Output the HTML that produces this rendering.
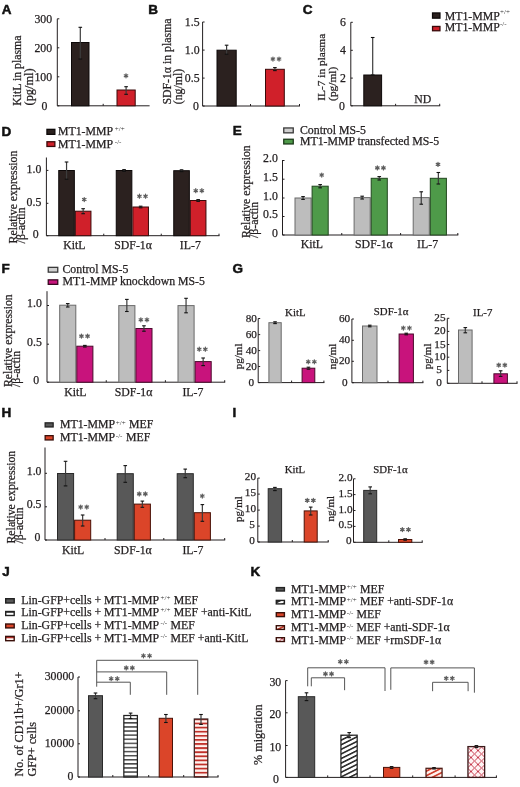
<!DOCTYPE html>
<html><head><meta charset="utf-8"><style>
html,body{margin:0;padding:0;background:#fff;width:520px;height:787px;overflow:hidden;}
svg{display:block;font-family:"Liberation Serif",serif;filter:blur(0.35px);}
</style></head><body>
<svg width="520" height="787" viewBox="0 0 520 787" shape-rendering="geometricPrecision"><defs><pattern id="hs" width="4" height="4.1" patternUnits="userSpaceOnUse" y="718"><rect width="4" height="4.1" fill="#fff"/><rect width="4" height="1.5" fill="#4a4a4a"/></pattern><pattern id="hsr" width="4" height="4.1" patternUnits="userSpaceOnUse" y="718.5"><rect width="4" height="4.1" fill="#fff4f0"/><rect width="4" height="1.8" fill="#c0302a"/></pattern><pattern id="dg" width="10" height="4.11" patternUnits="userSpaceOnUse" patternTransform="rotate(-26.57)"><rect width="10" height="4.11" fill="#fff"/><rect width="10" height="1.6" fill="#2a2a2a"/></pattern><pattern id="dgr" width="10" height="4.11" patternUnits="userSpaceOnUse" patternTransform="rotate(-26.57)"><rect width="10" height="4.11" fill="#fff3ee"/><rect width="10" height="1.7" fill="#d0402e"/></pattern><pattern id="xh" width="7" height="7" patternUnits="userSpaceOnUse" x="471" y="750.5"><rect width="7" height="7" fill="#fff4f4"/><path d="M-1,-1L8,8M8,-1L-1,8" stroke="#c0283c" stroke-width="0.9" fill="none"/></pattern></defs><text x="1.7" y="14.4" font-size="13.5" text-anchor="start" fill="#111" font-family='"Liberation Sans", sans-serif' font-weight="bold" stroke="#111" stroke-width="0.5" >A</text>
<line x1="57.3" y1="18.8" x2="57.3" y2="105.8" stroke="#231f20" stroke-width="1" />
<line x1="57.3" y1="18.8" x2="59.3" y2="18.8" stroke="#231f20" stroke-width="1" />
<text x="52.1" y="22.5" font-size="11.8" text-anchor="end" fill="#231f20" font-family='"Liberation Serif", serif' font-weight="normal" stroke="#231f20" stroke-width="0.25" >300</text>
<line x1="57.3" y1="47.8" x2="59.3" y2="47.8" stroke="#231f20" stroke-width="1" />
<text x="52.1" y="51.5" font-size="11.8" text-anchor="end" fill="#231f20" font-family='"Liberation Serif", serif' font-weight="normal" stroke="#231f20" stroke-width="0.25" >200</text>
<line x1="57.3" y1="76.8" x2="59.3" y2="76.8" stroke="#231f20" stroke-width="1" />
<text x="52.1" y="80.5" font-size="11.8" text-anchor="end" fill="#231f20" font-family='"Liberation Serif", serif' font-weight="normal" stroke="#231f20" stroke-width="0.25" >100</text>
<line x1="57.3" y1="105.8" x2="59.3" y2="105.8" stroke="#231f20" stroke-width="1" />
<text x="47.37" y="109.5" font-size="11.8" text-anchor="end" fill="#231f20" font-family='"Liberation Serif", serif' font-weight="normal" stroke="#231f20" stroke-width="0.25" >0</text>
<text x="0" y="0" transform="translate(21.3,105.8) rotate(-90)" font-size="11.8" text-anchor="start" fill="#231f20" font-family='"Liberation Serif", serif' font-weight="normal" stroke="#231f20" stroke-width="0.25" >KitL in plasma</text>
<text x="0" y="0" transform="translate(32.8,105.5) rotate(-90)" font-size="12.4" text-anchor="start" fill="#231f20" font-family='"Liberation Serif", serif' font-weight="normal" stroke="#231f20" stroke-width="0.25" >(pg/ml)</text>
<line x1="57.3" y1="105.8" x2="149.6" y2="105.8" stroke="#231f20" stroke-width="1" />
<line x1="103.2" y1="105.8" x2="103.2" y2="103.8" stroke="#231f20" stroke-width="1" />
<rect x="71.5" y="42.5" width="17.5" height="63.3" fill="#2b211f" stroke="#0d0909" stroke-width="1"/>
<line x1="80.3" y1="27.3" x2="80.3" y2="59" stroke="#3c3c3c" stroke-width="1.2" />
<line x1="78.5" y1="27.3" x2="82.1" y2="27.3" stroke="#111" stroke-width="1.1" />
<line x1="78.5" y1="59" x2="82.1" y2="59" stroke="#111" stroke-width="1.1" />
<rect x="117" y="90" width="18.2" height="15.8" fill="#d0202a" stroke="#3a0a0a" stroke-width="1"/>
<line x1="126.1" y1="86.7" x2="126.1" y2="94.3" stroke="#3c3c3c" stroke-width="1.2" />
<line x1="124.3" y1="86.7" x2="127.9" y2="86.7" stroke="#111" stroke-width="1.1" />
<line x1="124.3" y1="94.3" x2="127.9" y2="94.3" stroke="#111" stroke-width="1.1" />
<path d="M126,73.8L126,77.8M124.27,74.8L127.73,76.8M127.73,74.8L124.27,76.8" stroke="#5e5e5e" stroke-width="1.25" stroke-linecap="round" fill="none"/>
<circle cx="126" cy="75.8" r="1" fill="#5e5e5e"/>
<text x="148.3" y="14.1" font-size="13.5" text-anchor="start" fill="#111" font-family='"Liberation Sans", sans-serif' font-weight="bold" stroke="#111" stroke-width="0.5" >B</text>
<line x1="202.6" y1="22" x2="202.6" y2="106" stroke="#231f20" stroke-width="1" />
<line x1="202.6" y1="22" x2="204.6" y2="22" stroke="#231f20" stroke-width="1" />
<text x="199.6" y="25.7" font-size="11.8" text-anchor="end" fill="#231f20" font-family='"Liberation Serif", serif' font-weight="normal" stroke="#231f20" stroke-width="0.25" >1.5</text>
<line x1="202.6" y1="50.1" x2="204.6" y2="50.1" stroke="#231f20" stroke-width="1" />
<text x="199.6" y="53.8" font-size="11.8" text-anchor="end" fill="#231f20" font-family='"Liberation Serif", serif' font-weight="normal" stroke="#231f20" stroke-width="0.25" >1.0</text>
<line x1="202.6" y1="78.1" x2="204.6" y2="78.1" stroke="#231f20" stroke-width="1" />
<text x="199.6" y="81.8" font-size="11.8" text-anchor="end" fill="#231f20" font-family='"Liberation Serif", serif' font-weight="normal" stroke="#231f20" stroke-width="0.25" >0.5</text>
<line x1="202.6" y1="106" x2="204.6" y2="106" stroke="#231f20" stroke-width="1" />
<text x="198.97" y="109.7" font-size="11.8" text-anchor="end" fill="#231f20" font-family='"Liberation Serif", serif' font-weight="normal" stroke="#231f20" stroke-width="0.25" >0</text>
<text x="0" y="0" transform="translate(170.7,104.6) rotate(-90)" font-size="11.8" text-anchor="start" fill="#231f20" font-family='"Liberation Serif", serif' font-weight="normal" stroke="#231f20" stroke-width="0.25" >SDF-1α in plasma</text>
<text x="0" y="0" transform="translate(182.3,104.3) rotate(-90)" font-size="11.8" text-anchor="start" fill="#231f20" font-family='"Liberation Serif", serif' font-weight="normal" stroke="#231f20" stroke-width="0.25" >(ng/ml)</text>
<line x1="202.6" y1="106" x2="300" y2="106" stroke="#231f20" stroke-width="1" />
<line x1="250.5" y1="106" x2="250.5" y2="104" stroke="#231f20" stroke-width="1" />
<line x1="299.5" y1="106" x2="299.5" y2="104" stroke="#231f20" stroke-width="1" />
<rect x="217" y="50.2" width="19.2" height="55.8" fill="#2b211f" stroke="#0d0909" stroke-width="1"/>
<line x1="226.6" y1="45.2" x2="226.6" y2="54.2" stroke="#3c3c3c" stroke-width="1.2" />
<line x1="224.8" y1="45.2" x2="228.4" y2="45.2" stroke="#111" stroke-width="1.1" />
<line x1="224.8" y1="54.2" x2="228.4" y2="54.2" stroke="#111" stroke-width="1.1" />
<rect x="265.5" y="69.3" width="18.8" height="36.7" fill="#d0202a" stroke="#3a0a0a" stroke-width="1"/>
<line x1="274.9" y1="67.6" x2="274.9" y2="70.6" stroke="#3c3c3c" stroke-width="1.2" />
<line x1="273.1" y1="67.6" x2="276.7" y2="67.6" stroke="#111" stroke-width="1.1" />
<line x1="273.1" y1="70.6" x2="276.7" y2="70.6" stroke="#111" stroke-width="1.1" />
<path d="M272.95,57L272.95,61M271.22,58L274.68,60M274.68,58L271.22,60" stroke="#5e5e5e" stroke-width="1.25" stroke-linecap="round" fill="none"/>
<circle cx="272.95" cy="59" r="1" fill="#5e5e5e"/>
<path d="M279.05,57L279.05,61M277.32,58L280.78,60M280.78,58L277.32,60" stroke="#5e5e5e" stroke-width="1.25" stroke-linecap="round" fill="none"/>
<circle cx="279.05" cy="59" r="1" fill="#5e5e5e"/>
<text x="302.7" y="14.25" font-size="13.5" text-anchor="start" fill="#111" font-family='"Liberation Sans", sans-serif' font-weight="bold" stroke="#111" stroke-width="0.5" >C</text>
<line x1="350.8" y1="22.3" x2="350.8" y2="105.8" stroke="#231f20" stroke-width="1" />
<line x1="350.8" y1="22.3" x2="352.8" y2="22.3" stroke="#231f20" stroke-width="1" />
<text x="345.9" y="26" font-size="11.8" text-anchor="end" fill="#231f20" font-family='"Liberation Serif", serif' font-weight="normal" stroke="#231f20" stroke-width="0.25" >6</text>
<line x1="350.8" y1="50.3" x2="352.8" y2="50.3" stroke="#231f20" stroke-width="1" />
<text x="345.9" y="54" font-size="11.8" text-anchor="end" fill="#231f20" font-family='"Liberation Serif", serif' font-weight="normal" stroke="#231f20" stroke-width="0.25" >4</text>
<line x1="350.8" y1="78.1" x2="352.8" y2="78.1" stroke="#231f20" stroke-width="1" />
<text x="345.9" y="81.8" font-size="11.8" text-anchor="end" fill="#231f20" font-family='"Liberation Serif", serif' font-weight="normal" stroke="#231f20" stroke-width="0.25" >2</text>
<line x1="350.8" y1="105.8" x2="352.8" y2="105.8" stroke="#231f20" stroke-width="1" />
<text x="344.97" y="109.5" font-size="11.8" text-anchor="end" fill="#231f20" font-family='"Liberation Serif", serif' font-weight="normal" stroke="#231f20" stroke-width="0.25" >0</text>
<text x="0" y="0" transform="translate(325.2,100.8) rotate(-90)" font-size="11.4" text-anchor="start" fill="#231f20" font-family='"Liberation Serif", serif' font-weight="normal" stroke="#231f20" stroke-width="0.25" >IL-7 in plasma</text>
<text x="0" y="0" transform="translate(336.2,100.9) rotate(-90)" font-size="11.4" text-anchor="start" fill="#231f20" font-family='"Liberation Serif", serif' font-weight="normal" stroke="#231f20" stroke-width="0.25" >(pg/ml)</text>
<line x1="350.8" y1="105.8" x2="440.2" y2="105.8" stroke="#231f20" stroke-width="1" />
<line x1="395.6" y1="105.8" x2="395.6" y2="103.8" stroke="#231f20" stroke-width="1" />
<line x1="439.7" y1="105.8" x2="439.7" y2="103.8" stroke="#231f20" stroke-width="1" />
<rect x="363.8" y="75" width="17.8" height="30.8" fill="#2b211f" stroke="#0d0909" stroke-width="1"/>
<line x1="372.7" y1="37.5" x2="372.7" y2="75" stroke="#3c3c3c" stroke-width="1.2" />
<line x1="370.9" y1="37.5" x2="374.5" y2="37.5" stroke="#111" stroke-width="1.1" />
<line x1="370.9" y1="75" x2="374.5" y2="75" stroke="#111" stroke-width="1.1" />
<text x="422.7" y="103" font-size="11.8" text-anchor="middle" fill="#231f20" font-family='"Liberation Serif", serif' font-weight="normal" stroke="#231f20" stroke-width="0.25" >ND</text>
<rect x="432.55" y="12.95" width="7.4" height="5.2" fill="#2b211f" stroke="#0d0909" stroke-width="1.3"/>
<rect x="432.55" y="26.45" width="7.4" height="4.3" fill="#d0202a" stroke="#3a0a0a" stroke-width="1.3"/>
<text x="444.7" y="19.6" font-size="11.8" text-anchor="start" fill="#231f20" font-family='"Liberation Serif", serif' font-weight="normal" stroke="#231f20" stroke-width="0.25" >MT1-MMP</text>
<text x="500" y="14.4" font-size="7" text-anchor="start" fill="#333" font-family='"Liberation Serif", serif' font-weight="normal" stroke-width="0">+/+</text>
<text x="444.7" y="30.6" font-size="11.8" text-anchor="start" fill="#231f20" font-family='"Liberation Serif", serif' font-weight="normal" stroke="#231f20" stroke-width="0.25" >MT1-MMP</text>
<text x="500" y="26" font-size="7" text-anchor="start" fill="#333" font-family='"Liberation Serif", serif' font-weight="normal" stroke-width="0">-/-</text>
<text x="1.6" y="135.5" font-size="13.5" text-anchor="start" fill="#111" font-family='"Liberation Sans", sans-serif' font-weight="bold" stroke="#111" stroke-width="0.5" >D</text>
<rect x="46.95" y="129.35" width="7.9" height="5" fill="#2b211f" stroke="#0d0909" stroke-width="1.3"/>
<rect x="46.95" y="141.75" width="7.9" height="4.7" fill="#d0202a" stroke="#3a0a0a" stroke-width="1.3"/>
<text x="58" y="134.9" font-size="11.8" text-anchor="start" fill="#231f20" font-family='"Liberation Serif", serif' font-weight="normal" stroke="#231f20" stroke-width="0.25" >MT1-MMP</text>
<text x="114.8" y="131.3" font-size="7" text-anchor="start" fill="#333" font-family='"Liberation Serif", serif' font-weight="normal" stroke-width="0">+/+</text>
<text x="58" y="147.5" font-size="11.8" text-anchor="start" fill="#231f20" font-family='"Liberation Serif", serif' font-weight="normal" stroke="#231f20" stroke-width="0.25" >MT1-MMP</text>
<text x="114.8" y="143.9" font-size="7" text-anchor="start" fill="#333" font-family='"Liberation Serif", serif' font-weight="normal" stroke-width="0">-/-</text>
<line x1="46.4" y1="157.5" x2="46.4" y2="235.7" stroke="#231f20" stroke-width="1" />
<line x1="46.4" y1="170.4" x2="48.4" y2="170.4" stroke="#231f20" stroke-width="1" />
<text x="41.3" y="173" font-size="11.8" text-anchor="end" fill="#231f20" font-family='"Liberation Serif", serif' font-weight="normal" stroke="#231f20" stroke-width="0.25" >1.0</text>
<line x1="46.4" y1="203.3" x2="48.4" y2="203.3" stroke="#231f20" stroke-width="1" />
<text x="41.3" y="205.9" font-size="11.8" text-anchor="end" fill="#231f20" font-family='"Liberation Serif", serif' font-weight="normal" stroke="#231f20" stroke-width="0.25" >0.5</text>
<line x1="46.4" y1="235.7" x2="48.4" y2="235.7" stroke="#231f20" stroke-width="1" />
<text x="38.57" y="238.3" font-size="11.8" text-anchor="end" fill="#231f20" font-family='"Liberation Serif", serif' font-weight="normal" stroke="#231f20" stroke-width="0.25" >0</text>
<text x="0" y="0" transform="translate(16.5,243.4) rotate(-90)" font-size="11.8" text-anchor="start" fill="#231f20" font-family='"Liberation Serif", serif' font-weight="normal" stroke="#231f20" stroke-width="0.25" >Relative expression</text>
<text x="0" y="0" transform="translate(24.5,243.4) rotate(-90)" font-size="11.8" text-anchor="start" fill="#231f20" font-family='"Liberation Serif", serif' font-weight="normal" stroke="#231f20" stroke-width="0.25" >/β-actin</text>
<line x1="46.4" y1="235.7" x2="219.5" y2="235.7" stroke="#231f20" stroke-width="1" />
<line x1="103.75" y1="235.7" x2="103.75" y2="233.7" stroke="#231f20" stroke-width="1" />
<line x1="161.25" y1="235.7" x2="161.25" y2="233.7" stroke="#231f20" stroke-width="1" />
<line x1="219" y1="235.7" x2="219" y2="233.7" stroke="#231f20" stroke-width="1" />
<rect x="58.75" y="170.5" width="15.6" height="65.2" fill="#2b211f" stroke="#0d0909" stroke-width="1"/>
<rect x="75.35" y="211.2" width="15.6" height="24.5" fill="#d0202a" stroke="#3a0a0a" stroke-width="1"/>
<line x1="66.55" y1="162" x2="66.55" y2="179.2" stroke="#3c3c3c" stroke-width="1.2" />
<line x1="64.75" y1="162" x2="68.35" y2="162" stroke="#111" stroke-width="1.1" />
<line x1="64.75" y1="179.2" x2="68.35" y2="179.2" stroke="#111" stroke-width="1.1" />
<line x1="83.15" y1="208.7" x2="83.15" y2="213.7" stroke="#3c3c3c" stroke-width="1.2" />
<line x1="81.35" y1="208.7" x2="84.95" y2="208.7" stroke="#111" stroke-width="1.1" />
<line x1="81.35" y1="213.7" x2="84.95" y2="213.7" stroke="#111" stroke-width="1.1" />
<rect x="116.25" y="170.5" width="15.6" height="65.2" fill="#2b211f" stroke="#0d0909" stroke-width="1"/>
<rect x="132.85" y="207" width="15.6" height="28.7" fill="#d0202a" stroke="#3a0a0a" stroke-width="1"/>
<line x1="124.05" y1="169.6" x2="124.05" y2="171.4" stroke="#3c3c3c" stroke-width="1.2" />
<line x1="122.25" y1="169.6" x2="125.85" y2="169.6" stroke="#111" stroke-width="1.1" />
<line x1="122.25" y1="171.4" x2="125.85" y2="171.4" stroke="#111" stroke-width="1.1" />
<line x1="140.65" y1="206.2" x2="140.65" y2="207.8" stroke="#3c3c3c" stroke-width="1.2" />
<line x1="138.85" y1="206.2" x2="142.45" y2="206.2" stroke="#111" stroke-width="1.1" />
<line x1="138.85" y1="207.8" x2="142.45" y2="207.8" stroke="#111" stroke-width="1.1" />
<rect x="173.75" y="170.7" width="15.6" height="65" fill="#2b211f" stroke="#0d0909" stroke-width="1"/>
<rect x="190.35" y="200.5" width="15.6" height="35.2" fill="#d0202a" stroke="#3a0a0a" stroke-width="1"/>
<line x1="181.55" y1="169.8" x2="181.55" y2="171.6" stroke="#3c3c3c" stroke-width="1.2" />
<line x1="179.75" y1="169.8" x2="183.35" y2="169.8" stroke="#111" stroke-width="1.1" />
<line x1="179.75" y1="171.6" x2="183.35" y2="171.6" stroke="#111" stroke-width="1.1" />
<line x1="198.15" y1="199.6" x2="198.15" y2="201.4" stroke="#3c3c3c" stroke-width="1.2" />
<line x1="196.35" y1="199.6" x2="199.95" y2="199.6" stroke="#111" stroke-width="1.1" />
<line x1="196.35" y1="201.4" x2="199.95" y2="201.4" stroke="#111" stroke-width="1.1" />
<path d="M84.25,197.5L84.25,201.5M82.52,198.5L85.98,200.5M85.98,198.5L82.52,200.5" stroke="#5e5e5e" stroke-width="1.25" stroke-linecap="round" fill="none"/>
<circle cx="84.25" cy="199.5" r="1" fill="#5e5e5e"/>
<path d="M139.45,194.2L139.45,198.2M137.72,195.2L141.18,197.2M141.18,195.2L137.72,197.2" stroke="#5e5e5e" stroke-width="1.25" stroke-linecap="round" fill="none"/>
<circle cx="139.45" cy="196.2" r="1" fill="#5e5e5e"/>
<path d="M145.55,194.2L145.55,198.2M143.82,195.2L147.28,197.2M147.28,195.2L143.82,197.2" stroke="#5e5e5e" stroke-width="1.25" stroke-linecap="round" fill="none"/>
<circle cx="145.55" cy="196.2" r="1" fill="#5e5e5e"/>
<path d="M195.75,188.7L195.75,192.7M194.02,189.7L197.48,191.7M197.48,189.7L194.02,191.7" stroke="#5e5e5e" stroke-width="1.25" stroke-linecap="round" fill="none"/>
<circle cx="195.75" cy="190.7" r="1" fill="#5e5e5e"/>
<path d="M201.85,188.7L201.85,192.7M200.12,189.7L203.58,191.7M203.58,189.7L200.12,191.7" stroke="#5e5e5e" stroke-width="1.25" stroke-linecap="round" fill="none"/>
<circle cx="201.85" cy="190.7" r="1" fill="#5e5e5e"/>
<text x="74.4" y="248.7" font-size="11.8" text-anchor="middle" fill="#231f20" font-family='"Liberation Serif", serif' font-weight="normal" stroke="#231f20" stroke-width="0.25" >KitL</text>
<text x="133.1" y="248.7" font-size="11.8" text-anchor="middle" fill="#231f20" font-family='"Liberation Serif", serif' font-weight="normal" stroke="#231f20" stroke-width="0.25" >SDF-1α</text>
<text x="190.3" y="248.7" font-size="11.8" text-anchor="middle" fill="#231f20" font-family='"Liberation Serif", serif' font-weight="normal" stroke="#231f20" stroke-width="0.25" >IL-7</text>
<text x="232.8" y="135" font-size="13.5" text-anchor="start" fill="#111" font-family='"Liberation Sans", sans-serif' font-weight="bold" stroke="#111" stroke-width="0.5" >E</text>
<rect x="283.75" y="127.95" width="9.5" height="4.9" fill="#cfcfcf" stroke="#3a3a3a" stroke-width="1.3"/>
<rect x="283.75" y="139.25" width="9.5" height="4.7" fill="#4e9a49" stroke="#1c3a1a" stroke-width="1.3"/>
<text x="300" y="134" font-size="11.8" text-anchor="start" fill="#231f20" font-family='"Liberation Serif", serif' font-weight="normal" stroke="#231f20" stroke-width="0.25" >Control MS-5</text>
<text x="300" y="145" font-size="11.8" text-anchor="start" fill="#231f20" font-family='"Liberation Serif", serif' font-weight="normal" stroke="#231f20" stroke-width="0.25" >MT1-MMP transfected MS-5</text>
<line x1="282.5" y1="160" x2="282.5" y2="235" stroke="#231f20" stroke-width="1" />
<line x1="282.5" y1="160.5" x2="284.5" y2="160.5" stroke="#231f20" stroke-width="1" />
<text x="277.8" y="162.3" font-size="11.8" text-anchor="end" fill="#231f20" font-family='"Liberation Serif", serif' font-weight="normal" stroke="#231f20" stroke-width="0.25" >2.0</text>
<line x1="282.5" y1="179.2" x2="284.5" y2="179.2" stroke="#231f20" stroke-width="1" />
<text x="277.8" y="181" font-size="11.8" text-anchor="end" fill="#231f20" font-family='"Liberation Serif", serif' font-weight="normal" stroke="#231f20" stroke-width="0.25" >1.5</text>
<line x1="282.5" y1="198" x2="284.5" y2="198" stroke="#231f20" stroke-width="1" />
<text x="277.8" y="199.8" font-size="11.8" text-anchor="end" fill="#231f20" font-family='"Liberation Serif", serif' font-weight="normal" stroke="#231f20" stroke-width="0.25" >1.0</text>
<line x1="282.5" y1="216.5" x2="284.5" y2="216.5" stroke="#231f20" stroke-width="1" />
<text x="277.8" y="218.3" font-size="11.8" text-anchor="end" fill="#231f20" font-family='"Liberation Serif", serif' font-weight="normal" stroke="#231f20" stroke-width="0.25" >0.5</text>
<line x1="282.5" y1="235" x2="284.5" y2="235" stroke="#231f20" stroke-width="1" />
<text x="277.8" y="236.8" font-size="11.8" text-anchor="end" fill="#231f20" font-family='"Liberation Serif", serif' font-weight="normal" stroke="#231f20" stroke-width="0.25" >0</text>
<text x="0" y="0" transform="translate(250,238) rotate(-90)" font-size="11.8" text-anchor="start" fill="#231f20" font-family='"Liberation Serif", serif' font-weight="normal" stroke="#231f20" stroke-width="0.25" >Relative expression</text>
<text x="0" y="0" transform="translate(258,238) rotate(-90)" font-size="11.8" text-anchor="start" fill="#231f20" font-family='"Liberation Serif", serif' font-weight="normal" stroke="#231f20" stroke-width="0.25" >/β-actin</text>
<line x1="282.5" y1="235" x2="458.3" y2="235" stroke="#231f20" stroke-width="1" />
<line x1="341.75" y1="235" x2="341.75" y2="233" stroke="#231f20" stroke-width="1" />
<line x1="400.6" y1="235" x2="400.6" y2="233" stroke="#231f20" stroke-width="1" />
<line x1="457.8" y1="235" x2="457.8" y2="233" stroke="#231f20" stroke-width="1" />
<rect x="295" y="198" width="16.1" height="37" fill="#bdbdbd" stroke="#6a6a6a" stroke-width="1"/>
<rect x="312.1" y="186.2" width="16.1" height="48.8" fill="#4e9a49" stroke="#22471f" stroke-width="1"/>
<line x1="303.05" y1="196.6" x2="303.05" y2="199.4" stroke="#3c3c3c" stroke-width="1.2" />
<line x1="301.25" y1="196.6" x2="304.85" y2="196.6" stroke="#111" stroke-width="1.1" />
<line x1="301.25" y1="199.4" x2="304.85" y2="199.4" stroke="#111" stroke-width="1.1" />
<line x1="320.15" y1="184.6" x2="320.15" y2="187.8" stroke="#3c3c3c" stroke-width="1.2" />
<line x1="318.35" y1="184.6" x2="321.95" y2="184.6" stroke="#111" stroke-width="1.1" />
<line x1="318.35" y1="187.8" x2="321.95" y2="187.8" stroke="#111" stroke-width="1.1" />
<rect x="354.1" y="197.6" width="16.1" height="37.4" fill="#bdbdbd" stroke="#6a6a6a" stroke-width="1"/>
<rect x="371.2" y="178.3" width="16.1" height="56.7" fill="#4e9a49" stroke="#22471f" stroke-width="1"/>
<line x1="362.15" y1="196.2" x2="362.15" y2="199" stroke="#3c3c3c" stroke-width="1.2" />
<line x1="360.35" y1="196.2" x2="363.95" y2="196.2" stroke="#111" stroke-width="1.1" />
<line x1="360.35" y1="199" x2="363.95" y2="199" stroke="#111" stroke-width="1.1" />
<line x1="379.25" y1="176.6" x2="379.25" y2="180" stroke="#3c3c3c" stroke-width="1.2" />
<line x1="377.45" y1="176.6" x2="381.05" y2="176.6" stroke="#111" stroke-width="1.1" />
<line x1="377.45" y1="180" x2="381.05" y2="180" stroke="#111" stroke-width="1.1" />
<rect x="413.2" y="197.6" width="16.1" height="37.4" fill="#bdbdbd" stroke="#6a6a6a" stroke-width="1"/>
<rect x="430.3" y="178.3" width="16.1" height="56.7" fill="#4e9a49" stroke="#22471f" stroke-width="1"/>
<line x1="421.25" y1="191.8" x2="421.25" y2="204.2" stroke="#3c3c3c" stroke-width="1.2" />
<line x1="419.45" y1="191.8" x2="423.05" y2="191.8" stroke="#111" stroke-width="1.1" />
<line x1="419.45" y1="204.2" x2="423.05" y2="204.2" stroke="#111" stroke-width="1.1" />
<line x1="438.35" y1="172.5" x2="438.35" y2="184" stroke="#3c3c3c" stroke-width="1.2" />
<line x1="436.55" y1="172.5" x2="440.15" y2="172.5" stroke="#111" stroke-width="1.1" />
<line x1="436.55" y1="184" x2="440.15" y2="184" stroke="#111" stroke-width="1.1" />
<path d="M321.75,173L321.75,177M320.02,174L323.48,176M323.48,174L320.02,176" stroke="#5e5e5e" stroke-width="1.25" stroke-linecap="round" fill="none"/>
<circle cx="321.75" cy="175" r="1" fill="#5e5e5e"/>
<path d="M377.35,165.9L377.35,169.9M375.62,166.9L379.08,168.9M379.08,166.9L375.62,168.9" stroke="#5e5e5e" stroke-width="1.25" stroke-linecap="round" fill="none"/>
<circle cx="377.35" cy="167.9" r="1" fill="#5e5e5e"/>
<path d="M383.45,165.9L383.45,169.9M381.72,166.9L385.18,168.9M385.18,166.9L381.72,168.9" stroke="#5e5e5e" stroke-width="1.25" stroke-linecap="round" fill="none"/>
<circle cx="383.45" cy="167.9" r="1" fill="#5e5e5e"/>
<path d="M438,162.4L438,166.4M436.27,163.4L439.73,165.4M439.73,163.4L436.27,165.4" stroke="#5e5e5e" stroke-width="1.25" stroke-linecap="round" fill="none"/>
<circle cx="438" cy="164.4" r="1" fill="#5e5e5e"/>
<text x="311.9" y="248.2" font-size="11.8" text-anchor="middle" fill="#231f20" font-family='"Liberation Serif", serif' font-weight="normal" stroke="#231f20" stroke-width="0.25" >KitL</text>
<text x="373.9" y="248.2" font-size="11.8" text-anchor="middle" fill="#231f20" font-family='"Liberation Serif", serif' font-weight="normal" stroke="#231f20" stroke-width="0.25" >SDF-1α</text>
<text x="427.6" y="248.2" font-size="11.8" text-anchor="middle" fill="#231f20" font-family='"Liberation Serif", serif' font-weight="normal" stroke="#231f20" stroke-width="0.25" >IL-7</text>
<text x="1.6" y="273" font-size="13.5" text-anchor="start" fill="#111" font-family='"Liberation Sans", sans-serif' font-weight="bold" stroke="#111" stroke-width="0.5" >F</text>
<rect x="48.25" y="267.35" width="9.5" height="4.8" fill="#cfcfcf" stroke="#3a3a3a" stroke-width="1.3"/>
<rect x="48.25" y="279.85" width="9.5" height="4.5" fill="#c8137c" stroke="#3a0822" stroke-width="1.3"/>
<text x="62.5" y="273.3" font-size="11.8" text-anchor="start" fill="#231f20" font-family='"Liberation Serif", serif' font-weight="normal" stroke="#231f20" stroke-width="0.25" >Control MS-5</text>
<text x="62.5" y="285.3" font-size="11.8" text-anchor="start" fill="#231f20" font-family='"Liberation Serif", serif' font-weight="normal" stroke="#231f20" stroke-width="0.25" >MT1-MMP knockdown MS-5</text>
<line x1="47" y1="291.2" x2="47" y2="382.2" stroke="#231f20" stroke-width="1" />
<line x1="47" y1="305.5" x2="49" y2="305.5" stroke="#231f20" stroke-width="1" />
<text x="41.8" y="306.8" font-size="11.8" text-anchor="end" fill="#231f20" font-family='"Liberation Serif", serif' font-weight="normal" stroke="#231f20" stroke-width="0.25" >1.0</text>
<line x1="47" y1="344.2" x2="49" y2="344.2" stroke="#231f20" stroke-width="1" />
<text x="41.8" y="345.5" font-size="11.8" text-anchor="end" fill="#231f20" font-family='"Liberation Serif", serif' font-weight="normal" stroke="#231f20" stroke-width="0.25" >0.5</text>
<line x1="47" y1="382.2" x2="49" y2="382.2" stroke="#231f20" stroke-width="1" />
<text x="39.22" y="383.5" font-size="11.8" text-anchor="end" fill="#231f20" font-family='"Liberation Serif", serif' font-weight="normal" stroke="#231f20" stroke-width="0.25" >0</text>
<text x="0" y="0" transform="translate(12.2,387) rotate(-90)" font-size="11.8" text-anchor="start" fill="#231f20" font-family='"Liberation Serif", serif' font-weight="normal" stroke="#231f20" stroke-width="0.25" >Relative expression</text>
<text x="0" y="0" transform="translate(20.2,387) rotate(-90)" font-size="11.8" text-anchor="start" fill="#231f20" font-family='"Liberation Serif", serif' font-weight="normal" stroke="#231f20" stroke-width="0.25" >/β-actin</text>
<line x1="47" y1="382.2" x2="225.2" y2="382.2" stroke="#231f20" stroke-width="1" />
<line x1="106.25" y1="382.2" x2="106.25" y2="380.2" stroke="#231f20" stroke-width="1" />
<line x1="165.4" y1="382.2" x2="165.4" y2="380.2" stroke="#231f20" stroke-width="1" />
<line x1="224.7" y1="382.2" x2="224.7" y2="380.2" stroke="#231f20" stroke-width="1" />
<rect x="59.7" y="305.2" width="16.1" height="77" fill="#bdbdbd" stroke="#6a6a6a" stroke-width="1"/>
<rect x="76.8" y="346.2" width="16.1" height="36" fill="#c8137c" stroke="#4a0a2c" stroke-width="1"/>
<line x1="67.75" y1="303.6" x2="67.75" y2="307" stroke="#3c3c3c" stroke-width="1.2" />
<line x1="65.95" y1="303.6" x2="69.55" y2="303.6" stroke="#111" stroke-width="1.1" />
<line x1="65.95" y1="307" x2="69.55" y2="307" stroke="#111" stroke-width="1.1" />
<line x1="84.85" y1="345.4" x2="84.85" y2="347" stroke="#3c3c3c" stroke-width="1.2" />
<line x1="83.05" y1="345.4" x2="86.65" y2="345.4" stroke="#111" stroke-width="1.1" />
<line x1="83.05" y1="347" x2="86.65" y2="347" stroke="#111" stroke-width="1.1" />
<rect x="118.8" y="305.6" width="16.1" height="76.6" fill="#bdbdbd" stroke="#6a6a6a" stroke-width="1"/>
<rect x="135.9" y="328.5" width="16.1" height="53.7" fill="#c8137c" stroke="#4a0a2c" stroke-width="1"/>
<line x1="126.85" y1="299.4" x2="126.85" y2="311.5" stroke="#3c3c3c" stroke-width="1.2" />
<line x1="125.05" y1="299.4" x2="128.65" y2="299.4" stroke="#111" stroke-width="1.1" />
<line x1="125.05" y1="311.5" x2="128.65" y2="311.5" stroke="#111" stroke-width="1.1" />
<line x1="143.95" y1="325.8" x2="143.95" y2="331.2" stroke="#3c3c3c" stroke-width="1.2" />
<line x1="142.15" y1="325.8" x2="145.75" y2="325.8" stroke="#111" stroke-width="1.1" />
<line x1="142.15" y1="331.2" x2="145.75" y2="331.2" stroke="#111" stroke-width="1.1" />
<rect x="178" y="305.6" width="16.1" height="76.6" fill="#bdbdbd" stroke="#6a6a6a" stroke-width="1"/>
<rect x="195.1" y="361.6" width="16.1" height="20.6" fill="#c8137c" stroke="#4a0a2c" stroke-width="1"/>
<line x1="186.05" y1="298.3" x2="186.05" y2="312.8" stroke="#3c3c3c" stroke-width="1.2" />
<line x1="184.25" y1="298.3" x2="187.85" y2="298.3" stroke="#111" stroke-width="1.1" />
<line x1="184.25" y1="312.8" x2="187.85" y2="312.8" stroke="#111" stroke-width="1.1" />
<line x1="203.15" y1="358" x2="203.15" y2="365.6" stroke="#3c3c3c" stroke-width="1.2" />
<line x1="201.35" y1="358" x2="204.95" y2="358" stroke="#111" stroke-width="1.1" />
<line x1="201.35" y1="365.6" x2="204.95" y2="365.6" stroke="#111" stroke-width="1.1" />
<path d="M81.45,334.1L81.45,338.1M79.72,335.1L83.18,337.1M83.18,335.1L79.72,337.1" stroke="#5e5e5e" stroke-width="1.25" stroke-linecap="round" fill="none"/>
<circle cx="81.45" cy="336.1" r="1" fill="#5e5e5e"/>
<path d="M87.55,334.1L87.55,338.1M85.82,335.1L89.28,337.1M89.28,335.1L85.82,337.1" stroke="#5e5e5e" stroke-width="1.25" stroke-linecap="round" fill="none"/>
<circle cx="87.55" cy="336.1" r="1" fill="#5e5e5e"/>
<path d="M140.85,317.8L140.85,321.8M139.12,318.8L142.58,320.8M142.58,318.8L139.12,320.8" stroke="#5e5e5e" stroke-width="1.25" stroke-linecap="round" fill="none"/>
<circle cx="140.85" cy="319.8" r="1" fill="#5e5e5e"/>
<path d="M146.95,317.8L146.95,321.8M145.22,318.8L148.68,320.8M148.68,318.8L145.22,320.8" stroke="#5e5e5e" stroke-width="1.25" stroke-linecap="round" fill="none"/>
<circle cx="146.95" cy="319.8" r="1" fill="#5e5e5e"/>
<path d="M199.25,347.2L199.25,351.2M197.52,348.2L200.98,350.2M200.98,348.2L197.52,350.2" stroke="#5e5e5e" stroke-width="1.25" stroke-linecap="round" fill="none"/>
<circle cx="199.25" cy="349.2" r="1" fill="#5e5e5e"/>
<path d="M205.35,347.2L205.35,351.2M203.62,348.2L207.08,350.2M207.08,348.2L203.62,350.2" stroke="#5e5e5e" stroke-width="1.25" stroke-linecap="round" fill="none"/>
<circle cx="205.35" cy="349.2" r="1" fill="#5e5e5e"/>
<text x="75.4" y="396.2" font-size="11.8" text-anchor="middle" fill="#231f20" font-family='"Liberation Serif", serif' font-weight="normal" stroke="#231f20" stroke-width="0.25" >KitL</text>
<text x="133.6" y="396.2" font-size="11.8" text-anchor="middle" fill="#231f20" font-family='"Liberation Serif", serif' font-weight="normal" stroke="#231f20" stroke-width="0.25" >SDF-1α</text>
<text x="192.9" y="396.2" font-size="11.8" text-anchor="middle" fill="#231f20" font-family='"Liberation Serif", serif' font-weight="normal" stroke="#231f20" stroke-width="0.25" >IL-7</text>
<text x="232.4" y="273" font-size="13.5" text-anchor="start" fill="#111" font-family='"Liberation Sans", sans-serif' font-weight="bold" stroke="#111" stroke-width="0.5" >G</text>
<line x1="258.2" y1="318.5" x2="258.2" y2="382.6" stroke="#231f20" stroke-width="1" />
<line x1="258.2" y1="318.5" x2="260.2" y2="318.5" stroke="#231f20" stroke-width="1" />
<text x="256.9" y="321.5" font-size="11.2" text-anchor="end" fill="#231f20" font-family='"Liberation Serif", serif' font-weight="normal" stroke="#231f20" stroke-width="0.25" >80</text>
<line x1="258.2" y1="334.6" x2="260.2" y2="334.6" stroke="#231f20" stroke-width="1" />
<text x="256.9" y="337.6" font-size="11.2" text-anchor="end" fill="#231f20" font-family='"Liberation Serif", serif' font-weight="normal" stroke="#231f20" stroke-width="0.25" >60</text>
<line x1="258.2" y1="350.6" x2="260.2" y2="350.6" stroke="#231f20" stroke-width="1" />
<text x="256.9" y="353.6" font-size="11.2" text-anchor="end" fill="#231f20" font-family='"Liberation Serif", serif' font-weight="normal" stroke="#231f20" stroke-width="0.25" >40</text>
<line x1="258.2" y1="366.5" x2="260.2" y2="366.5" stroke="#231f20" stroke-width="1" />
<text x="256.9" y="369.5" font-size="11.2" text-anchor="end" fill="#231f20" font-family='"Liberation Serif", serif' font-weight="normal" stroke="#231f20" stroke-width="0.25" >20</text>
<line x1="258.2" y1="382.6" x2="260.2" y2="382.6" stroke="#231f20" stroke-width="1" />
<text x="254.05" y="385.6" font-size="11.2" text-anchor="end" fill="#231f20" font-family='"Liberation Serif", serif' font-weight="normal" stroke="#231f20" stroke-width="0.25" >0</text>
<text x="295.3" y="316.3" font-size="10.8" text-anchor="middle" fill="#231f20" font-family='"Liberation Serif", serif' font-weight="normal" stroke="#231f20" stroke-width="0.25" >KitL</text>
<line x1="258.2" y1="382.6" x2="324.4" y2="382.6" stroke="#231f20" stroke-width="1" />
<line x1="291.6" y1="382.6" x2="291.6" y2="380.6" stroke="#231f20" stroke-width="1" />
<line x1="323.9" y1="382.6" x2="323.9" y2="380.6" stroke="#231f20" stroke-width="1" />
<rect x="268.9" y="322.7" width="12.3" height="59.9" fill="#bdbdbd" stroke="#6a6a6a" stroke-width="1"/>
<line x1="275.05" y1="321.8" x2="275.05" y2="323.6" stroke="#3c3c3c" stroke-width="1.2" />
<line x1="273.25" y1="321.8" x2="276.85" y2="321.8" stroke="#111" stroke-width="1.1" />
<line x1="273.25" y1="323.6" x2="276.85" y2="323.6" stroke="#111" stroke-width="1.1" />
<rect x="302.1" y="368.2" width="12.7" height="14.4" fill="#c8137c" stroke="#4a0a2c" stroke-width="1"/>
<line x1="308.45" y1="367.2" x2="308.45" y2="369.2" stroke="#3c3c3c" stroke-width="1.2" />
<line x1="306.65" y1="367.2" x2="310.25" y2="367.2" stroke="#111" stroke-width="1.1" />
<line x1="306.65" y1="369.2" x2="310.25" y2="369.2" stroke="#111" stroke-width="1.1" />
<text x="0" y="0" transform="translate(242,369.2) rotate(-90)" font-size="11" text-anchor="start" fill="#231f20" font-family='"Liberation Serif", serif' font-weight="normal" stroke="#231f20" stroke-width="0.25" >pg/ml</text>
<path d="M308.25,359.8L308.25,363.8M306.52,360.8L309.98,362.8M309.98,360.8L306.52,362.8" stroke="#5e5e5e" stroke-width="1.25" stroke-linecap="round" fill="none"/>
<circle cx="308.25" cy="361.8" r="1" fill="#5e5e5e"/>
<path d="M314.35,359.8L314.35,363.8M312.62,360.8L316.08,362.8M316.08,360.8L312.62,362.8" stroke="#5e5e5e" stroke-width="1.25" stroke-linecap="round" fill="none"/>
<circle cx="314.35" cy="361.8" r="1" fill="#5e5e5e"/>
<line x1="351.9" y1="319" x2="351.9" y2="382.7" stroke="#231f20" stroke-width="1" />
<line x1="351.9" y1="319" x2="353.9" y2="319" stroke="#231f20" stroke-width="1" />
<text x="350.2" y="322" font-size="11.2" text-anchor="end" fill="#231f20" font-family='"Liberation Serif", serif' font-weight="normal" stroke="#231f20" stroke-width="0.25" >60</text>
<line x1="351.9" y1="340.3" x2="353.9" y2="340.3" stroke="#231f20" stroke-width="1" />
<text x="350.2" y="343.3" font-size="11.2" text-anchor="end" fill="#231f20" font-family='"Liberation Serif", serif' font-weight="normal" stroke="#231f20" stroke-width="0.25" >40</text>
<line x1="351.9" y1="361.3" x2="353.9" y2="361.3" stroke="#231f20" stroke-width="1" />
<text x="350.2" y="364.3" font-size="11.2" text-anchor="end" fill="#231f20" font-family='"Liberation Serif", serif' font-weight="normal" stroke="#231f20" stroke-width="0.25" >20</text>
<line x1="351.9" y1="382.7" x2="353.9" y2="382.7" stroke="#231f20" stroke-width="1" />
<text x="347.65" y="385.7" font-size="11.2" text-anchor="end" fill="#231f20" font-family='"Liberation Serif", serif' font-weight="normal" stroke="#231f20" stroke-width="0.25" >0</text>
<text x="391.1" y="315.4" font-size="10.8" text-anchor="middle" fill="#231f20" font-family='"Liberation Serif", serif' font-weight="normal" stroke="#231f20" stroke-width="0.25" >SDF-1α</text>
<line x1="351.9" y1="382.7" x2="423.4" y2="382.7" stroke="#231f20" stroke-width="1" />
<line x1="388" y1="382.7" x2="388" y2="380.7" stroke="#231f20" stroke-width="1" />
<line x1="422.9" y1="382.7" x2="422.9" y2="380.7" stroke="#231f20" stroke-width="1" />
<rect x="362.5" y="326" width="14.5" height="56.7" fill="#bdbdbd" stroke="#6a6a6a" stroke-width="1"/>
<line x1="369.75" y1="325.2" x2="369.75" y2="326.8" stroke="#3c3c3c" stroke-width="1.2" />
<line x1="367.95" y1="325.2" x2="371.55" y2="325.2" stroke="#111" stroke-width="1.1" />
<line x1="367.95" y1="326.8" x2="371.55" y2="326.8" stroke="#111" stroke-width="1.1" />
<rect x="399.1" y="334" width="14.3" height="48.7" fill="#c8137c" stroke="#4a0a2c" stroke-width="1"/>
<line x1="406.25" y1="333.2" x2="406.25" y2="334.8" stroke="#3c3c3c" stroke-width="1.2" />
<line x1="404.45" y1="333.2" x2="408.05" y2="333.2" stroke="#111" stroke-width="1.1" />
<line x1="404.45" y1="334.8" x2="408.05" y2="334.8" stroke="#111" stroke-width="1.1" />
<text x="0" y="0" transform="translate(336,369.3) rotate(-90)" font-size="11" text-anchor="start" fill="#231f20" font-family='"Liberation Serif", serif' font-weight="normal" stroke="#231f20" stroke-width="0.25" >ng/ml</text>
<path d="M403.35,326L403.35,330M401.62,327L405.08,329M405.08,327L401.62,329" stroke="#5e5e5e" stroke-width="1.25" stroke-linecap="round" fill="none"/>
<circle cx="403.35" cy="328" r="1" fill="#5e5e5e"/>
<path d="M409.45,326L409.45,330M407.72,327L411.18,329M411.18,327L407.72,329" stroke="#5e5e5e" stroke-width="1.25" stroke-linecap="round" fill="none"/>
<circle cx="409.45" cy="328" r="1" fill="#5e5e5e"/>
<line x1="447.3" y1="318.3" x2="447.3" y2="383.3" stroke="#231f20" stroke-width="1" />
<line x1="447.3" y1="318.3" x2="449.3" y2="318.3" stroke="#231f20" stroke-width="1" />
<text x="445.5" y="321.3" font-size="11.2" text-anchor="end" fill="#231f20" font-family='"Liberation Serif", serif' font-weight="normal" stroke="#231f20" stroke-width="0.25" >25</text>
<line x1="447.3" y1="331.4" x2="449.3" y2="331.4" stroke="#231f20" stroke-width="1" />
<text x="445.5" y="334.4" font-size="11.2" text-anchor="end" fill="#231f20" font-family='"Liberation Serif", serif' font-weight="normal" stroke="#231f20" stroke-width="0.25" >20</text>
<line x1="447.3" y1="344.5" x2="449.3" y2="344.5" stroke="#231f20" stroke-width="1" />
<text x="445.5" y="347.5" font-size="11.2" text-anchor="end" fill="#231f20" font-family='"Liberation Serif", serif' font-weight="normal" stroke="#231f20" stroke-width="0.25" >15</text>
<line x1="447.3" y1="357.2" x2="449.3" y2="357.2" stroke="#231f20" stroke-width="1" />
<text x="445.5" y="360.2" font-size="11.2" text-anchor="end" fill="#231f20" font-family='"Liberation Serif", serif' font-weight="normal" stroke="#231f20" stroke-width="0.25" >10</text>
<line x1="447.3" y1="370.4" x2="449.3" y2="370.4" stroke="#231f20" stroke-width="1" />
<text x="441.75" y="373.4" font-size="11.2" text-anchor="end" fill="#231f20" font-family='"Liberation Serif", serif' font-weight="normal" stroke="#231f20" stroke-width="0.25" >5</text>
<line x1="447.3" y1="383.3" x2="449.3" y2="383.3" stroke="#231f20" stroke-width="1" />
<text x="441.75" y="386.3" font-size="11.2" text-anchor="end" fill="#231f20" font-family='"Liberation Serif", serif' font-weight="normal" stroke="#231f20" stroke-width="0.25" >0</text>
<text x="482.7" y="315.8" font-size="10.8" text-anchor="middle" fill="#231f20" font-family='"Liberation Serif", serif' font-weight="normal" stroke="#231f20" stroke-width="0.25" >IL-7</text>
<line x1="447.3" y1="383.3" x2="517.5" y2="383.3" stroke="#231f20" stroke-width="1" />
<line x1="482" y1="383.3" x2="482" y2="381.3" stroke="#231f20" stroke-width="1" />
<line x1="517" y1="383.3" x2="517" y2="381.3" stroke="#231f20" stroke-width="1" />
<rect x="458.5" y="330" width="13.6" height="53.3" fill="#bdbdbd" stroke="#6a6a6a" stroke-width="1"/>
<line x1="465.3" y1="327.6" x2="465.3" y2="332.8" stroke="#3c3c3c" stroke-width="1.2" />
<line x1="463.5" y1="327.6" x2="467.1" y2="327.6" stroke="#111" stroke-width="1.1" />
<line x1="463.5" y1="332.8" x2="467.1" y2="332.8" stroke="#111" stroke-width="1.1" />
<rect x="493.9" y="373.8" width="13.5" height="9.5" fill="#c8137c" stroke="#4a0a2c" stroke-width="1"/>
<line x1="500.65" y1="370.8" x2="500.65" y2="376.4" stroke="#3c3c3c" stroke-width="1.2" />
<line x1="498.85" y1="370.8" x2="502.45" y2="370.8" stroke="#111" stroke-width="1.1" />
<line x1="498.85" y1="376.4" x2="502.45" y2="376.4" stroke="#111" stroke-width="1.1" />
<text x="0" y="0" transform="translate(431.2,369.2) rotate(-90)" font-size="11" text-anchor="start" fill="#231f20" font-family='"Liberation Serif", serif' font-weight="normal" stroke="#231f20" stroke-width="0.25" >pg/ml</text>
<path d="M498.75,363.1L498.75,367.1M497.02,364.1L500.48,366.1M500.48,364.1L497.02,366.1" stroke="#5e5e5e" stroke-width="1.25" stroke-linecap="round" fill="none"/>
<circle cx="498.75" cy="365.1" r="1" fill="#5e5e5e"/>
<path d="M504.85,363.1L504.85,367.1M503.12,364.1L506.58,366.1M506.58,364.1L503.12,366.1" stroke="#5e5e5e" stroke-width="1.25" stroke-linecap="round" fill="none"/>
<circle cx="504.85" cy="365.1" r="1" fill="#5e5e5e"/>
<text x="1.6" y="417" font-size="13.5" text-anchor="start" fill="#111" font-family='"Liberation Sans", sans-serif' font-weight="bold" stroke="#111" stroke-width="0.5" >H</text>
<rect x="45.15" y="422.85" width="8" height="4.1" fill="#585858" stroke="#222" stroke-width="1.3"/>
<rect x="45.15" y="435.65" width="8" height="4.3" fill="#db4529" stroke="#3a100a" stroke-width="1.3"/>
<text x="60" y="428" font-size="11.8" text-anchor="start" fill="#231f20" font-family='"Liberation Serif", serif' font-weight="normal" stroke="#231f20" stroke-width="0.25" >MT1-MMP</text>
<text x="115.8" y="424.6" font-size="7" text-anchor="start" fill="#333" font-family='"Liberation Serif", serif' font-weight="normal" stroke-width="0">+/+</text>
<text x="129" y="428" font-size="11.8" text-anchor="start" fill="#231f20" font-family='"Liberation Serif", serif' font-weight="normal" stroke="#231f20" stroke-width="0.25" >MEF</text>
<text x="60" y="441" font-size="11.8" text-anchor="start" fill="#231f20" font-family='"Liberation Serif", serif' font-weight="normal" stroke="#231f20" stroke-width="0.25" >MT1-MMP</text>
<text x="115.8" y="437.6" font-size="7" text-anchor="start" fill="#333" font-family='"Liberation Serif", serif' font-weight="normal" stroke-width="0">-/-</text>
<text x="126" y="441" font-size="11.8" text-anchor="start" fill="#231f20" font-family='"Liberation Serif", serif' font-weight="normal" stroke="#231f20" stroke-width="0.25" >MEF</text>
<line x1="45" y1="447.5" x2="45" y2="540" stroke="#231f20" stroke-width="1" />
<line x1="45" y1="473.3" x2="47" y2="473.3" stroke="#231f20" stroke-width="1" />
<text x="41.5" y="474.6" font-size="11.8" text-anchor="end" fill="#231f20" font-family='"Liberation Serif", serif' font-weight="normal" stroke="#231f20" stroke-width="0.25" >1.0</text>
<line x1="45" y1="506.8" x2="47" y2="506.8" stroke="#231f20" stroke-width="1" />
<text x="41.5" y="508.1" font-size="11.8" text-anchor="end" fill="#231f20" font-family='"Liberation Serif", serif' font-weight="normal" stroke="#231f20" stroke-width="0.25" >0.5</text>
<line x1="45" y1="540" x2="47" y2="540" stroke="#231f20" stroke-width="1" />
<text x="40.47" y="541.3" font-size="11.8" text-anchor="end" fill="#231f20" font-family='"Liberation Serif", serif' font-weight="normal" stroke="#231f20" stroke-width="0.25" >0</text>
<text x="0" y="0" transform="translate(15.1,543.5) rotate(-90)" font-size="11.8" text-anchor="start" fill="#231f20" font-family='"Liberation Serif", serif' font-weight="normal" stroke="#231f20" stroke-width="0.25" >Relative expression</text>
<text x="0" y="0" transform="translate(23.1,543.5) rotate(-90)" font-size="11.8" text-anchor="start" fill="#231f20" font-family='"Liberation Serif", serif' font-weight="normal" stroke="#231f20" stroke-width="0.25" >/β-actin</text>
<line x1="45" y1="540" x2="225.2" y2="540" stroke="#231f20" stroke-width="1" />
<line x1="105" y1="540" x2="105" y2="538" stroke="#231f20" stroke-width="1" />
<line x1="163.8" y1="540" x2="163.8" y2="538" stroke="#231f20" stroke-width="1" />
<line x1="224.7" y1="540" x2="224.7" y2="538" stroke="#231f20" stroke-width="1" />
<rect x="57.5" y="473.5" width="16.1" height="66.5" fill="#585858" stroke="#2a2a2a" stroke-width="1"/>
<rect x="74.6" y="520.2" width="16.1" height="19.8" fill="#db4529" stroke="#4a1208" stroke-width="1"/>
<line x1="65.55" y1="461.3" x2="65.55" y2="485.9" stroke="#3c3c3c" stroke-width="1.2" />
<line x1="63.75" y1="461.3" x2="67.35" y2="461.3" stroke="#111" stroke-width="1.1" />
<line x1="63.75" y1="485.9" x2="67.35" y2="485.9" stroke="#111" stroke-width="1.1" />
<line x1="82.65" y1="515" x2="82.65" y2="526" stroke="#3c3c3c" stroke-width="1.2" />
<line x1="80.85" y1="515" x2="84.45" y2="515" stroke="#111" stroke-width="1.1" />
<line x1="80.85" y1="526" x2="84.45" y2="526" stroke="#111" stroke-width="1.1" />
<rect x="117.2" y="473.7" width="16.1" height="66.3" fill="#585858" stroke="#2a2a2a" stroke-width="1"/>
<rect x="134.3" y="504.1" width="16.1" height="35.9" fill="#db4529" stroke="#4a1208" stroke-width="1"/>
<line x1="125.25" y1="465.6" x2="125.25" y2="482.3" stroke="#3c3c3c" stroke-width="1.2" />
<line x1="123.45" y1="465.6" x2="127.05" y2="465.6" stroke="#111" stroke-width="1.1" />
<line x1="123.45" y1="482.3" x2="127.05" y2="482.3" stroke="#111" stroke-width="1.1" />
<line x1="142.35" y1="501.1" x2="142.35" y2="507.3" stroke="#3c3c3c" stroke-width="1.2" />
<line x1="140.55" y1="501.1" x2="144.15" y2="501.1" stroke="#111" stroke-width="1.1" />
<line x1="140.55" y1="507.3" x2="144.15" y2="507.3" stroke="#111" stroke-width="1.1" />
<rect x="177.2" y="473.7" width="16.1" height="66.3" fill="#585858" stroke="#2a2a2a" stroke-width="1"/>
<rect x="194.3" y="512.7" width="16.1" height="27.3" fill="#db4529" stroke="#4a1208" stroke-width="1"/>
<line x1="185.25" y1="469.1" x2="185.25" y2="477.7" stroke="#3c3c3c" stroke-width="1.2" />
<line x1="183.45" y1="469.1" x2="187.05" y2="469.1" stroke="#111" stroke-width="1.1" />
<line x1="183.45" y1="477.7" x2="187.05" y2="477.7" stroke="#111" stroke-width="1.1" />
<line x1="202.35" y1="504.6" x2="202.35" y2="521.3" stroke="#3c3c3c" stroke-width="1.2" />
<line x1="200.55" y1="504.6" x2="204.15" y2="504.6" stroke="#111" stroke-width="1.1" />
<line x1="200.55" y1="521.3" x2="204.15" y2="521.3" stroke="#111" stroke-width="1.1" />
<path d="M80.7,505L80.7,509M78.97,506L82.43,508M82.43,506L78.97,508" stroke="#5e5e5e" stroke-width="1.25" stroke-linecap="round" fill="none"/>
<circle cx="80.7" cy="507" r="1" fill="#5e5e5e"/>
<path d="M86.8,505L86.8,509M85.07,506L88.53,508M88.53,506L85.07,508" stroke="#5e5e5e" stroke-width="1.25" stroke-linecap="round" fill="none"/>
<circle cx="86.8" cy="507" r="1" fill="#5e5e5e"/>
<path d="M139.25,491.9L139.25,495.9M137.52,492.9L140.98,494.9M140.98,492.9L137.52,494.9" stroke="#5e5e5e" stroke-width="1.25" stroke-linecap="round" fill="none"/>
<circle cx="139.25" cy="493.9" r="1" fill="#5e5e5e"/>
<path d="M145.35,491.9L145.35,495.9M143.62,492.9L147.08,494.9M147.08,492.9L143.62,494.9" stroke="#5e5e5e" stroke-width="1.25" stroke-linecap="round" fill="none"/>
<circle cx="145.35" cy="493.9" r="1" fill="#5e5e5e"/>
<path d="M202.3,494L202.3,498M200.57,495L204.03,497M204.03,495L200.57,497" stroke="#5e5e5e" stroke-width="1.25" stroke-linecap="round" fill="none"/>
<circle cx="202.3" cy="496" r="1" fill="#5e5e5e"/>
<text x="73.1" y="554" font-size="11.8" text-anchor="middle" fill="#231f20" font-family='"Liberation Serif", serif' font-weight="normal" stroke="#231f20" stroke-width="0.25" >KitL</text>
<text x="132.9" y="554" font-size="11.8" text-anchor="middle" fill="#231f20" font-family='"Liberation Serif", serif' font-weight="normal" stroke="#231f20" stroke-width="0.25" >SDF-1α</text>
<text x="192.9" y="554" font-size="11.8" text-anchor="middle" fill="#231f20" font-family='"Liberation Serif", serif' font-weight="normal" stroke="#231f20" stroke-width="0.25" >IL-7</text>
<text x="232.6" y="416.6" font-size="13.5" text-anchor="start" fill="#111" font-family='"Liberation Sans", sans-serif' font-weight="bold" stroke="#111" stroke-width="0.5" >I</text>
<line x1="257.8" y1="478.1" x2="257.8" y2="542" stroke="#231f20" stroke-width="1" />
<line x1="257.8" y1="478.1" x2="259.8" y2="478.1" stroke="#231f20" stroke-width="1" />
<text x="256" y="480.1" font-size="11.2" text-anchor="end" fill="#231f20" font-family='"Liberation Serif", serif' font-weight="normal" stroke="#231f20" stroke-width="0.25" >20</text>
<line x1="257.8" y1="494.1" x2="259.8" y2="494.1" stroke="#231f20" stroke-width="1" />
<text x="256" y="496.1" font-size="11.2" text-anchor="end" fill="#231f20" font-family='"Liberation Serif", serif' font-weight="normal" stroke="#231f20" stroke-width="0.25" >15</text>
<line x1="257.8" y1="510.1" x2="259.8" y2="510.1" stroke="#231f20" stroke-width="1" />
<text x="256" y="512.1" font-size="11.2" text-anchor="end" fill="#231f20" font-family='"Liberation Serif", serif' font-weight="normal" stroke="#231f20" stroke-width="0.25" >10</text>
<line x1="257.8" y1="526.1" x2="259.8" y2="526.1" stroke="#231f20" stroke-width="1" />
<text x="254.85" y="528.1" font-size="11.2" text-anchor="end" fill="#231f20" font-family='"Liberation Serif", serif' font-weight="normal" stroke="#231f20" stroke-width="0.25" >5</text>
<line x1="257.8" y1="542" x2="259.8" y2="542" stroke="#231f20" stroke-width="1" />
<text x="254.85" y="544" font-size="11.2" text-anchor="end" fill="#231f20" font-family='"Liberation Serif", serif' font-weight="normal" stroke="#231f20" stroke-width="0.25" >0</text>
<text x="295" y="472.9" font-size="10.8" text-anchor="middle" fill="#231f20" font-family='"Liberation Serif", serif' font-weight="normal" stroke="#231f20" stroke-width="0.25" >KitL</text>
<line x1="257.8" y1="542" x2="328.7" y2="542" stroke="#231f20" stroke-width="1" />
<line x1="292.3" y1="542" x2="292.3" y2="540" stroke="#231f20" stroke-width="1" />
<line x1="328.2" y1="542" x2="328.2" y2="540" stroke="#231f20" stroke-width="1" />
<rect x="268.2" y="488.7" width="13.4" height="53.3" fill="#585858" stroke="#2a2a2a" stroke-width="1"/>
<line x1="274.9" y1="487.4" x2="274.9" y2="490.6" stroke="#3c3c3c" stroke-width="1.2" />
<line x1="273.1" y1="487.4" x2="276.7" y2="487.4" stroke="#111" stroke-width="1.1" />
<line x1="273.1" y1="490.6" x2="276.7" y2="490.6" stroke="#111" stroke-width="1.1" />
<rect x="304.2" y="510.9" width="13" height="31.1" fill="#db4529" stroke="#4a1208" stroke-width="1"/>
<line x1="310.7" y1="507.1" x2="310.7" y2="515" stroke="#3c3c3c" stroke-width="1.2" />
<line x1="308.9" y1="507.1" x2="312.5" y2="507.1" stroke="#111" stroke-width="1.1" />
<line x1="308.9" y1="515" x2="312.5" y2="515" stroke="#111" stroke-width="1.1" />
<text x="0" y="0" transform="translate(241.5,521.9) rotate(-90)" font-size="11" text-anchor="start" fill="#231f20" font-family='"Liberation Serif", serif' font-weight="normal" stroke="#231f20" stroke-width="0.25" >pg/ml</text>
<path d="M307.25,498.4L307.25,502.4M305.52,499.4L308.98,501.4M308.98,499.4L305.52,501.4" stroke="#5e5e5e" stroke-width="1.25" stroke-linecap="round" fill="none"/>
<circle cx="307.25" cy="500.4" r="1" fill="#5e5e5e"/>
<path d="M313.35,498.4L313.35,502.4M311.62,499.4L315.08,501.4M315.08,499.4L311.62,501.4" stroke="#5e5e5e" stroke-width="1.25" stroke-linecap="round" fill="none"/>
<circle cx="313.35" cy="500.4" r="1" fill="#5e5e5e"/>
<line x1="353.5" y1="478.8" x2="353.5" y2="542.3" stroke="#231f20" stroke-width="1" />
<line x1="353.5" y1="478.8" x2="355.5" y2="478.8" stroke="#231f20" stroke-width="1" />
<text x="352.5" y="480.8" font-size="11.2" text-anchor="end" fill="#231f20" font-family='"Liberation Serif", serif' font-weight="normal" stroke="#231f20" stroke-width="0.25" >2.0</text>
<line x1="353.5" y1="494.6" x2="355.5" y2="494.6" stroke="#231f20" stroke-width="1" />
<text x="352.5" y="496.6" font-size="11.2" text-anchor="end" fill="#231f20" font-family='"Liberation Serif", serif' font-weight="normal" stroke="#231f20" stroke-width="0.25" >1.5</text>
<line x1="353.5" y1="510.5" x2="355.5" y2="510.5" stroke="#231f20" stroke-width="1" />
<text x="352.5" y="512.5" font-size="11.2" text-anchor="end" fill="#231f20" font-family='"Liberation Serif", serif' font-weight="normal" stroke="#231f20" stroke-width="0.25" >1.0</text>
<line x1="353.5" y1="526.4" x2="355.5" y2="526.4" stroke="#231f20" stroke-width="1" />
<text x="352.5" y="528.4" font-size="11.2" text-anchor="end" fill="#231f20" font-family='"Liberation Serif", serif' font-weight="normal" stroke="#231f20" stroke-width="0.25" >0.5</text>
<line x1="353.5" y1="542.3" x2="355.5" y2="542.3" stroke="#231f20" stroke-width="1" />
<text x="351.65" y="544.3" font-size="11.2" text-anchor="end" fill="#231f20" font-family='"Liberation Serif", serif' font-weight="normal" stroke="#231f20" stroke-width="0.25" >0</text>
<text x="390.4" y="473.1" font-size="10.8" text-anchor="middle" fill="#231f20" font-family='"Liberation Serif", serif' font-weight="normal" stroke="#231f20" stroke-width="0.25" >SDF-1α</text>
<line x1="353.5" y1="542.3" x2="422.7" y2="542.3" stroke="#231f20" stroke-width="1" />
<line x1="388.8" y1="542.3" x2="388.8" y2="540.3" stroke="#231f20" stroke-width="1" />
<line x1="422.2" y1="542.3" x2="422.2" y2="540.3" stroke="#231f20" stroke-width="1" />
<rect x="363.7" y="490.4" width="13" height="51.9" fill="#585858" stroke="#2a2a2a" stroke-width="1"/>
<line x1="370.2" y1="486.9" x2="370.2" y2="493.8" stroke="#3c3c3c" stroke-width="1.2" />
<line x1="368.4" y1="486.9" x2="372" y2="486.9" stroke="#111" stroke-width="1.1" />
<line x1="368.4" y1="493.8" x2="372" y2="493.8" stroke="#111" stroke-width="1.1" />
<rect x="398.5" y="539.5" width="13.3" height="2.8" fill="#db4529" stroke="#4a1208" stroke-width="1"/>
<line x1="405.15" y1="538.8" x2="405.15" y2="540.2" stroke="#3c3c3c" stroke-width="1.2" />
<line x1="403.35" y1="538.8" x2="406.95" y2="538.8" stroke="#111" stroke-width="1.1" />
<line x1="403.35" y1="540.2" x2="406.95" y2="540.2" stroke="#111" stroke-width="1.1" />
<text x="0" y="0" transform="translate(334,521.5) rotate(-90)" font-size="11" text-anchor="start" fill="#231f20" font-family='"Liberation Serif", serif' font-weight="normal" stroke="#231f20" stroke-width="0.25" >ng/ml</text>
<path d="M402.35,527.6L402.35,531.6M400.62,528.6L404.08,530.6M404.08,528.6L400.62,530.6" stroke="#5e5e5e" stroke-width="1.25" stroke-linecap="round" fill="none"/>
<circle cx="402.35" cy="529.6" r="1" fill="#5e5e5e"/>
<path d="M408.45,527.6L408.45,531.6M406.72,528.6L410.18,530.6M410.18,528.6L406.72,530.6" stroke="#5e5e5e" stroke-width="1.25" stroke-linecap="round" fill="none"/>
<circle cx="408.45" cy="529.6" r="1" fill="#5e5e5e"/>
<text x="2.3" y="576.3" font-size="13.5" text-anchor="start" fill="#111" font-family='"Liberation Sans", sans-serif' font-weight="bold" stroke="#111" stroke-width="0.5" >J</text>
<rect x="5.7" y="598.7" width="8.5" height="4.3" fill="#585858" stroke="#222" stroke-width="1.4"/>
<text x="21.3" y="603.9" font-size="11.8" text-anchor="start" fill="#231f20" font-family='"Liberation Serif", serif' font-weight="normal" stroke="#231f20" stroke-width="0.25" >Lin-GFP+cells + MT1-MMP</text>
<text x="160.6" y="599.9" font-size="7" text-anchor="start" fill="#333" font-family='"Liberation Serif", serif' font-weight="normal" stroke-width="0">+/+</text>
<text x="173.7" y="603.9" font-size="11.8" text-anchor="start" fill="#231f20" font-family='"Liberation Serif", serif' font-weight="normal" stroke="#231f20" stroke-width="0.25" >MEF</text>
<rect x="5.7" y="611.5" width="8.5" height="4" fill="url(#hs)" stroke="#222" stroke-width="1.4"/>
<text x="21.3" y="616.45" font-size="11.8" text-anchor="start" fill="#231f20" font-family='"Liberation Serif", serif' font-weight="normal" stroke="#231f20" stroke-width="0.25" >Lin-GFP+cells + MT1-MMP</text>
<text x="160.6" y="612.45" font-size="7" text-anchor="start" fill="#333" font-family='"Liberation Serif", serif' font-weight="normal" stroke-width="0">+/+</text>
<text x="173.7" y="616.45" font-size="11.8" text-anchor="start" fill="#231f20" font-family='"Liberation Serif", serif' font-weight="normal" stroke="#231f20" stroke-width="0.25" >MEF +anti-KitL</text>
<rect x="5.7" y="624" width="8.5" height="3.9" fill="#db4529" stroke="#3a100a" stroke-width="1.4"/>
<text x="21.3" y="629" font-size="11.8" text-anchor="start" fill="#231f20" font-family='"Liberation Serif", serif' font-weight="normal" stroke="#231f20" stroke-width="0.25" >Lin-GFP+cells + MT1-MMP</text>
<text x="160.6" y="625" font-size="7" text-anchor="start" fill="#333" font-family='"Liberation Serif", serif' font-weight="normal" stroke-width="0">-/-</text>
<text x="170.6" y="629" font-size="11.8" text-anchor="start" fill="#231f20" font-family='"Liberation Serif", serif' font-weight="normal" stroke="#231f20" stroke-width="0.25" >MEF</text>
<rect x="5.7" y="636.4" width="8.5" height="4.3" fill="url(#hsr)" stroke="#3a100a" stroke-width="1.4"/>
<text x="21.3" y="641.55" font-size="11.8" text-anchor="start" fill="#231f20" font-family='"Liberation Serif", serif' font-weight="normal" stroke="#231f20" stroke-width="0.25" >Lin-GFP+cells + MT1-MMP</text>
<text x="160.6" y="637.55" font-size="7" text-anchor="start" fill="#333" font-family='"Liberation Serif", serif' font-weight="normal" stroke-width="0">-/-</text>
<text x="170.6" y="641.55" font-size="11.8" text-anchor="start" fill="#231f20" font-family='"Liberation Serif", serif' font-weight="normal" stroke="#231f20" stroke-width="0.25" >MEF +anti-KitL</text>
<line x1="78" y1="677" x2="78" y2="777" stroke="#231f20" stroke-width="1" />
<line x1="78" y1="677" x2="80" y2="677" stroke="#231f20" stroke-width="1" />
<text x="74.2" y="679.7" font-size="11.8" text-anchor="end" fill="#231f20" font-family='"Liberation Serif", serif' font-weight="normal" stroke="#231f20" stroke-width="0.25" >30000</text>
<line x1="78" y1="710.8" x2="80" y2="710.8" stroke="#231f20" stroke-width="1" />
<text x="74.2" y="713.5" font-size="11.8" text-anchor="end" fill="#231f20" font-family='"Liberation Serif", serif' font-weight="normal" stroke="#231f20" stroke-width="0.25" >20000</text>
<line x1="78" y1="743.8" x2="80" y2="743.8" stroke="#231f20" stroke-width="1" />
<text x="74.2" y="746.5" font-size="11.8" text-anchor="end" fill="#231f20" font-family='"Liberation Serif", serif' font-weight="normal" stroke="#231f20" stroke-width="0.25" >10000</text>
<line x1="78" y1="777" x2="80" y2="777" stroke="#231f20" stroke-width="1" />
<text x="73.47" y="779.7" font-size="11.8" text-anchor="end" fill="#231f20" font-family='"Liberation Serif", serif' font-weight="normal" stroke="#231f20" stroke-width="0.25" >0</text>
<text x="0" y="0" transform="translate(23.4,776.6) rotate(-90)" font-size="12.2" text-anchor="start" fill="#231f20" font-family='"Liberation Serif", serif' font-weight="normal" stroke="#231f20" stroke-width="0.25" >No. of CD11b+/Gr1+</text>
<text x="0" y="0" transform="translate(36.4,776.6) rotate(-90)" font-size="12.2" text-anchor="start" fill="#231f20" font-family='"Liberation Serif", serif' font-weight="normal" stroke="#231f20" stroke-width="0.25" >GFP+ cells</text>
<line x1="78" y1="777" x2="218.5" y2="777" stroke="#231f20" stroke-width="1" />
<line x1="112.8" y1="777" x2="112.8" y2="775" stroke="#231f20" stroke-width="1" />
<line x1="148.7" y1="777" x2="148.7" y2="775" stroke="#231f20" stroke-width="1" />
<line x1="183.7" y1="777" x2="183.7" y2="775" stroke="#231f20" stroke-width="1" />
<line x1="218" y1="777" x2="218" y2="775" stroke="#231f20" stroke-width="1" />
<rect x="88.5" y="695.7" width="14" height="81.3" fill="#585858" stroke="#2a2a2a" stroke-width="1"/>
<line x1="95.5" y1="693" x2="95.5" y2="698.7" stroke="#3c3c3c" stroke-width="1.2" />
<line x1="93.7" y1="693" x2="97.3" y2="693" stroke="#111" stroke-width="1.1" />
<line x1="93.7" y1="698.7" x2="97.3" y2="698.7" stroke="#111" stroke-width="1.1" />
<rect x="123.83" y="715.5" width="13.55" height="61.5" fill="url(#hs)" stroke="#222" stroke-width="1.25"/>
<line x1="130.6" y1="713.1" x2="130.6" y2="718.5" stroke="#3c3c3c" stroke-width="1.2" />
<line x1="128.8" y1="713.1" x2="132.4" y2="713.1" stroke="#111" stroke-width="1.1" />
<line x1="128.8" y1="718.5" x2="132.4" y2="718.5" stroke="#111" stroke-width="1.1" />
<rect x="159.2" y="718.3" width="13.3" height="58.7" fill="#db4529" stroke="#4a1208" stroke-width="1"/>
<line x1="165.9" y1="714.5" x2="165.9" y2="722.5" stroke="#3c3c3c" stroke-width="1.2" />
<line x1="164.1" y1="714.5" x2="167.7" y2="714.5" stroke="#111" stroke-width="1.1" />
<line x1="164.1" y1="722.5" x2="167.7" y2="722.5" stroke="#111" stroke-width="1.1" />
<rect x="194.32" y="719" width="13.45" height="58" fill="url(#hsr)" stroke="#3a2020" stroke-width="1.25"/>
<line x1="201" y1="714.5" x2="201" y2="724.4" stroke="#3c3c3c" stroke-width="1.2" />
<line x1="199.2" y1="714.5" x2="202.8" y2="714.5" stroke="#111" stroke-width="1.1" />
<line x1="199.2" y1="724.4" x2="202.8" y2="724.4" stroke="#111" stroke-width="1.1" />
<polyline points="96.7,686.7 96.7,660.3 197.7,660.3 197.7,694.8" fill="none" stroke="#555" stroke-width="1"/>
<polyline points="96.7,671.9 166.7,671.9 166.7,694.8" fill="none" stroke="#555" stroke-width="1"/>
<polyline points="96.7,682.2 130.3,682.2 130.3,694.8" fill="none" stroke="#555" stroke-width="1"/>
<path d="M143.45,653.8L143.45,657.8M141.72,654.8L145.18,656.8M145.18,654.8L141.72,656.8" stroke="#5e5e5e" stroke-width="1.25" stroke-linecap="round" fill="none"/>
<circle cx="143.45" cy="655.8" r="1" fill="#5e5e5e"/>
<path d="M149.55,653.8L149.55,657.8M147.82,654.8L151.28,656.8M151.28,654.8L147.82,656.8" stroke="#5e5e5e" stroke-width="1.25" stroke-linecap="round" fill="none"/>
<circle cx="149.55" cy="655.8" r="1" fill="#5e5e5e"/>
<path d="M126.25,665.9L126.25,669.9M124.52,666.9L127.98,668.9M127.98,666.9L124.52,668.9" stroke="#5e5e5e" stroke-width="1.25" stroke-linecap="round" fill="none"/>
<circle cx="126.25" cy="667.9" r="1" fill="#5e5e5e"/>
<path d="M132.35,665.9L132.35,669.9M130.62,666.9L134.08,668.9M134.08,666.9L130.62,668.9" stroke="#5e5e5e" stroke-width="1.25" stroke-linecap="round" fill="none"/>
<circle cx="132.35" cy="667.9" r="1" fill="#5e5e5e"/>
<path d="M111.15,676.7L111.15,680.7M109.42,677.7L112.88,679.7M112.88,677.7L109.42,679.7" stroke="#5e5e5e" stroke-width="1.25" stroke-linecap="round" fill="none"/>
<circle cx="111.15" cy="678.7" r="1" fill="#5e5e5e"/>
<path d="M117.25,676.7L117.25,680.7M115.52,677.7L118.98,679.7M118.98,677.7L115.52,679.7" stroke="#5e5e5e" stroke-width="1.25" stroke-linecap="round" fill="none"/>
<circle cx="117.25" cy="678.7" r="1" fill="#5e5e5e"/>
<text x="250.6" y="575.6" font-size="13.5" text-anchor="start" fill="#111" font-family='"Liberation Sans", sans-serif' font-weight="bold" stroke="#111" stroke-width="0.5" >K</text>
<rect x="276.3" y="587.6" width="8.1" height="3.4" fill="#585858" stroke="#222" stroke-width="1.4"/>
<text x="291" y="592.6" font-size="11.8" text-anchor="start" fill="#231f20" font-family='"Liberation Serif", serif' font-weight="normal" stroke="#231f20" stroke-width="0.25" >MT1-MMP</text>
<text x="346.8" y="589.2" font-size="7" text-anchor="start" fill="#333" font-family='"Liberation Serif", serif' font-weight="normal" stroke-width="0">+/+</text>
<text x="360" y="592.6" font-size="11.8" text-anchor="start" fill="#231f20" font-family='"Liberation Serif", serif' font-weight="normal" stroke="#231f20" stroke-width="0.25" >MEF</text>
<rect x="276.3" y="600.4" width="8.1" height="3.5" fill="url(#dg)" stroke="#222" stroke-width="1.4"/>
<text x="291" y="605.4" font-size="11.8" text-anchor="start" fill="#231f20" font-family='"Liberation Serif", serif' font-weight="normal" stroke="#231f20" stroke-width="0.25" >MT1-MMP</text>
<text x="346.8" y="602" font-size="7" text-anchor="start" fill="#333" font-family='"Liberation Serif", serif' font-weight="normal" stroke-width="0">+/+</text>
<text x="360" y="605.4" font-size="11.8" text-anchor="start" fill="#231f20" font-family='"Liberation Serif", serif' font-weight="normal" stroke="#231f20" stroke-width="0.25" >MEF +anti-SDF-1α</text>
<rect x="276.3" y="612.7" width="8.1" height="3.9" fill="#db4529" stroke="#3a100a" stroke-width="1.4"/>
<text x="291" y="618.2" font-size="11.8" text-anchor="start" fill="#231f20" font-family='"Liberation Serif", serif' font-weight="normal" stroke="#231f20" stroke-width="0.25" >MT1-MMP</text>
<text x="346.8" y="614.8" font-size="7" text-anchor="start" fill="#333" font-family='"Liberation Serif", serif' font-weight="normal" stroke-width="0">-/-</text>
<text x="356.5" y="618.2" font-size="11.8" text-anchor="start" fill="#231f20" font-family='"Liberation Serif", serif' font-weight="normal" stroke="#231f20" stroke-width="0.25" >MEF</text>
<rect x="276.3" y="625.7" width="8.1" height="3.7" fill="url(#dgr)" stroke="#3a100a" stroke-width="1.4"/>
<text x="291" y="631" font-size="11.8" text-anchor="start" fill="#231f20" font-family='"Liberation Serif", serif' font-weight="normal" stroke="#231f20" stroke-width="0.25" >MT1-MMP</text>
<text x="346.8" y="627.6" font-size="7" text-anchor="start" fill="#333" font-family='"Liberation Serif", serif' font-weight="normal" stroke-width="0">-/-</text>
<text x="356.5" y="631" font-size="11.8" text-anchor="start" fill="#231f20" font-family='"Liberation Serif", serif' font-weight="normal" stroke="#231f20" stroke-width="0.25" >MEF +anti-SDF-1α</text>
<rect x="276.3" y="637.7" width="8.1" height="3.8" fill="url(#xh)" stroke="#3a100a" stroke-width="1.4"/>
<text x="291" y="643.8" font-size="11.8" text-anchor="start" fill="#231f20" font-family='"Liberation Serif", serif' font-weight="normal" stroke="#231f20" stroke-width="0.25" >MT1-MMP</text>
<text x="346.8" y="640.4" font-size="7" text-anchor="start" fill="#333" font-family='"Liberation Serif", serif' font-weight="normal" stroke-width="0">-/-</text>
<text x="356.5" y="643.8" font-size="11.8" text-anchor="start" fill="#231f20" font-family='"Liberation Serif", serif' font-weight="normal" stroke="#231f20" stroke-width="0.25" >MEF +rmSDF-1α</text>
<line x1="285.6" y1="680.6" x2="285.6" y2="777.4" stroke="#231f20" stroke-width="1" />
<line x1="285.6" y1="680.6" x2="287.6" y2="680.6" stroke="#231f20" stroke-width="1" />
<text x="281.2" y="685.8" font-size="11.8" text-anchor="end" fill="#231f20" font-family='"Liberation Serif", serif' font-weight="normal" stroke="#231f20" stroke-width="0.25" >30</text>
<line x1="285.6" y1="712.8" x2="287.6" y2="712.8" stroke="#231f20" stroke-width="1" />
<text x="281.2" y="718" font-size="11.8" text-anchor="end" fill="#231f20" font-family='"Liberation Serif", serif' font-weight="normal" stroke="#231f20" stroke-width="0.25" >20</text>
<line x1="285.6" y1="745.5" x2="287.6" y2="745.5" stroke="#231f20" stroke-width="1" />
<text x="281.2" y="750.7" font-size="11.8" text-anchor="end" fill="#231f20" font-family='"Liberation Serif", serif' font-weight="normal" stroke="#231f20" stroke-width="0.25" >10</text>
<line x1="285.6" y1="777.4" x2="287.6" y2="777.4" stroke="#231f20" stroke-width="1" />
<text x="278.97" y="782.6" font-size="11.8" text-anchor="end" fill="#231f20" font-family='"Liberation Serif", serif' font-weight="normal" stroke="#231f20" stroke-width="0.25" >0</text>
<text x="0" y="0" transform="translate(261.8,765) rotate(-90)" font-size="12.2" text-anchor="start" fill="#231f20" font-family='"Liberation Serif", serif' font-weight="normal" stroke="#231f20" stroke-width="0.25" >% migration</text>
<line x1="285.6" y1="777.4" x2="496.9" y2="777.4" stroke="#231f20" stroke-width="1" />
<line x1="327.7" y1="777.4" x2="327.7" y2="775.4" stroke="#231f20" stroke-width="1" />
<line x1="370" y1="777.4" x2="370" y2="775.4" stroke="#231f20" stroke-width="1" />
<line x1="412.7" y1="777.4" x2="412.7" y2="775.4" stroke="#231f20" stroke-width="1" />
<line x1="455.1" y1="777.4" x2="455.1" y2="775.4" stroke="#231f20" stroke-width="1" />
<line x1="496.4" y1="777.4" x2="496.4" y2="775.4" stroke="#231f20" stroke-width="1" />
<rect x="298.3" y="696.7" width="16.4" height="80.7" fill="#585858" stroke="#2a2a2a" stroke-width="1"/>
<line x1="306.5" y1="692.8" x2="306.5" y2="700.6" stroke="#3c3c3c" stroke-width="1.2" />
<line x1="304.7" y1="692.8" x2="308.3" y2="692.8" stroke="#111" stroke-width="1.1" />
<line x1="304.7" y1="700.6" x2="308.3" y2="700.6" stroke="#111" stroke-width="1.1" />
<rect x="340.93" y="735.2" width="16.25" height="42.2" fill="url(#dg)" stroke="#222" stroke-width="1.25"/>
<line x1="349.2" y1="732.6" x2="349.2" y2="737.7" stroke="#3c3c3c" stroke-width="1.2" />
<line x1="347.4" y1="732.6" x2="351" y2="732.6" stroke="#111" stroke-width="1.1" />
<line x1="347.4" y1="737.7" x2="351" y2="737.7" stroke="#111" stroke-width="1.1" />
<rect x="383.5" y="767.4" width="16.3" height="10" fill="#db4529" stroke="#4a1208" stroke-width="1"/>
<line x1="391.6" y1="766.6" x2="391.6" y2="768.4" stroke="#3c3c3c" stroke-width="1.2" />
<line x1="389.8" y1="766.6" x2="393.4" y2="766.6" stroke="#111" stroke-width="1.1" />
<line x1="389.8" y1="768.4" x2="393.4" y2="768.4" stroke="#111" stroke-width="1.1" />
<rect x="426.02" y="768.3" width="16.05" height="9.1" fill="url(#dgr)" stroke="#4a1a14" stroke-width="1.25"/>
<line x1="434" y1="767.6" x2="434" y2="769" stroke="#3c3c3c" stroke-width="1.2" />
<line x1="432.2" y1="767.6" x2="435.8" y2="767.6" stroke="#111" stroke-width="1.1" />
<line x1="432.2" y1="769" x2="435.8" y2="769" stroke="#111" stroke-width="1.1" />
<rect x="467.95" y="746.6" width="16.7" height="30.8" fill="url(#xh)" stroke="#3a1a1a" stroke-width="1.3"/>
<line x1="476.4" y1="745.6" x2="476.4" y2="747.6" stroke="#3c3c3c" stroke-width="1.2" />
<line x1="474.6" y1="745.6" x2="478.2" y2="745.6" stroke="#111" stroke-width="1.1" />
<line x1="474.6" y1="747.6" x2="478.2" y2="747.6" stroke="#111" stroke-width="1.1" />
<polyline points="307.7,686.3 307.7,667.8 385,667.8 385,691" fill="none" stroke="#555" stroke-width="1"/>
<polyline points="311.3,686.3 311.3,677.8 344.6,677.8 344.6,690.2" fill="none" stroke="#555" stroke-width="1"/>
<polyline points="390.8,689.8 390.8,667.9 474.4,667.9 474.4,692.7" fill="none" stroke="#555" stroke-width="1"/>
<polyline points="432.6,691.2 432.6,682.3 468.1,682.3 468.1,691.2" fill="none" stroke="#555" stroke-width="1"/>
<path d="M340.25,659.7L340.25,663.7M338.52,660.7L341.98,662.7M341.98,660.7L338.52,662.7" stroke="#5e5e5e" stroke-width="1.25" stroke-linecap="round" fill="none"/>
<circle cx="340.25" cy="661.7" r="1" fill="#5e5e5e"/>
<path d="M346.35,659.7L346.35,663.7M344.62,660.7L348.08,662.7M348.08,660.7L344.62,662.7" stroke="#5e5e5e" stroke-width="1.25" stroke-linecap="round" fill="none"/>
<circle cx="346.35" cy="661.7" r="1" fill="#5e5e5e"/>
<path d="M325.45,671.9L325.45,675.9M323.72,672.9L327.18,674.9M327.18,672.9L323.72,674.9" stroke="#5e5e5e" stroke-width="1.25" stroke-linecap="round" fill="none"/>
<circle cx="325.45" cy="673.9" r="1" fill="#5e5e5e"/>
<path d="M331.55,671.9L331.55,675.9M329.82,672.9L333.28,674.9M333.28,672.9L329.82,674.9" stroke="#5e5e5e" stroke-width="1.25" stroke-linecap="round" fill="none"/>
<circle cx="331.55" cy="673.9" r="1" fill="#5e5e5e"/>
<path d="M426.05,660.1L426.05,664.1M424.32,661.1L427.78,663.1M427.78,661.1L424.32,663.1" stroke="#5e5e5e" stroke-width="1.25" stroke-linecap="round" fill="none"/>
<circle cx="426.05" cy="662.1" r="1" fill="#5e5e5e"/>
<path d="M432.15,660.1L432.15,664.1M430.42,661.1L433.88,663.1M433.88,661.1L430.42,663.1" stroke="#5e5e5e" stroke-width="1.25" stroke-linecap="round" fill="none"/>
<circle cx="432.15" cy="662.1" r="1" fill="#5e5e5e"/>
<path d="M446.25,676.3L446.25,680.3M444.52,677.3L447.98,679.3M447.98,677.3L444.52,679.3" stroke="#5e5e5e" stroke-width="1.25" stroke-linecap="round" fill="none"/>
<circle cx="446.25" cy="678.3" r="1" fill="#5e5e5e"/>
<path d="M452.35,676.3L452.35,680.3M450.62,677.3L454.08,679.3M454.08,677.3L450.62,679.3" stroke="#5e5e5e" stroke-width="1.25" stroke-linecap="round" fill="none"/>
<circle cx="452.35" cy="678.3" r="1" fill="#5e5e5e"/></svg>
</body></html>
